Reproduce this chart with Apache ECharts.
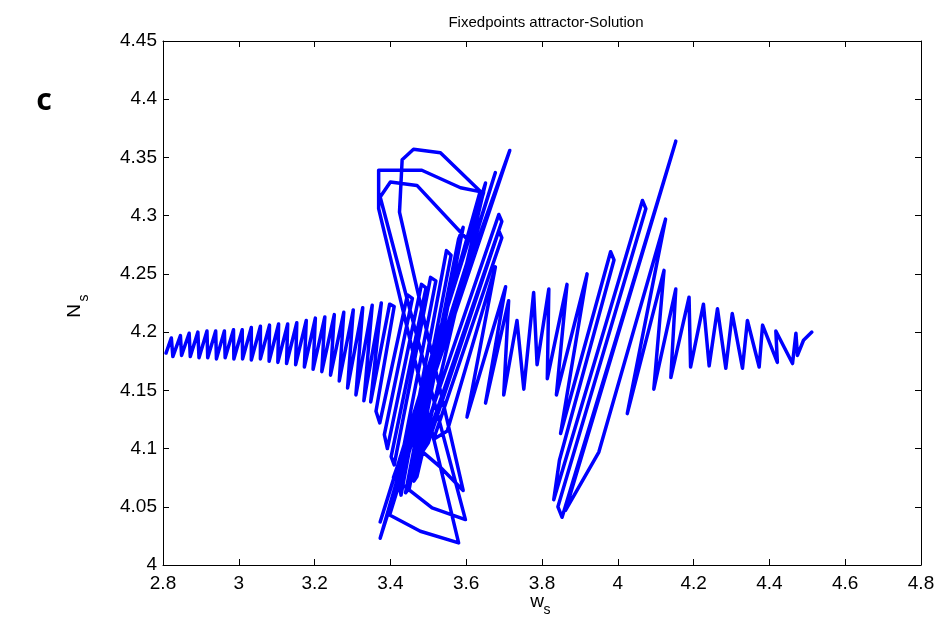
<!DOCTYPE html>
<html><head><meta charset="utf-8">
<script src="https://cdn.jsdelivr.net/npm/echarts@6.0.0/dist/echarts.min.js"></script>
<style>html,body{margin:0;padding:0;background:#fff}#chart{width:938px;height:625px}</style>
</head><body><div id="chart"></div>
<script>
// Axis ranges / ticks
const xMin = 2.8, xMax = 4.8, xStep = 0.2;
const yMin = 4.0, yMax = 4.45, yStep = 0.05;

// Trajectory vertices, in time order (w_s values)
const wsTrace = [
  // slow small oscillations
  2.808,2.822, 2.826,2.846, 2.849,2.869, 2.872,2.892, 2.895,2.916, 2.918,2.939,
  2.941,2.962, 2.964,2.986, 2.987,3.009, 3.010,3.033, 3.033,3.057, 3.057,3.081,
  3.080,3.105, 3.103,3.129, 3.126,3.153, 3.150,3.178, 3.173,3.202, 3.196,3.227,
  3.219,3.252, 3.242,3.277, 3.265,3.302, 3.287,3.327, 3.309,3.352, 3.330,3.376,
  // growth, first burst
  3.348,3.398,3.410,3.362, 3.372,3.445,3.458,3.384, 3.392,3.482,3.494,3.402,
  3.410,3.506,3.520,3.420, 3.428,3.548,3.560,3.440, 3.450,3.580,3.592,3.462,
  3.470,3.651,
  3.373,3.646,3.585,3.483,3.369,3.369,3.580,3.479,3.398,
  3.677,
  3.373,3.602,3.470,3.400,3.373,3.598,3.510,3.408,
  3.715,
  3.420,3.637,3.532,3.461,3.431,3.424,3.592,3.532,
  // decay
  3.475,3.686,3.694,3.486, 3.500,3.686,3.694,3.514, 3.550,3.677,
  3.602,3.704, 3.651,3.712, 3.699,3.734,
  3.752,3.778, 3.787,3.818,
  // second burst
  3.814,3.866, 3.838,3.919, 3.849,3.981,3.990,3.846,
  3.831,4.065,4.074,3.842, 3.853,4.153,4.145,3.862, 3.950,4.126,
  4.025,4.122, 4.095,4.153, 4.140,4.188,
  4.192,4.226, 4.241,4.263, 4.285,4.302, 4.329,4.342, 4.373,4.382, 4.421,4.417,
  4.461,4.470, 4.474,4.490,4.512
];
// N_s values matching wsTrace
const nsTrace = [
  4.182,4.195, 4.179,4.197, 4.180,4.199, 4.179,4.200, 4.178,4.201, 4.178,4.201,
  4.177,4.201, 4.178,4.202, 4.177,4.202, 4.177,4.204, 4.176,4.205, 4.177,4.206,
  4.175,4.207, 4.174,4.207, 4.173,4.208, 4.172,4.210, 4.170,4.212, 4.168,4.213,
  4.166,4.215, 4.163,4.217, 4.158,4.219, 4.152,4.221, 4.146,4.223, 4.141,4.225,
  4.140,4.224,4.222,4.132, 4.122,4.232,4.229,4.112, 4.100,4.241,4.238,4.093,
  4.086,4.247,4.244,4.076, 4.060,4.270,4.266,4.062, 4.066,4.280,4.290,4.072,
  4.076,4.328,
  4.037,4.320,4.324,4.339,4.339,4.306,4.019,4.029,4.043,
  4.337,
  4.023,4.280,4.326,4.329,4.316,4.039,4.049,4.075,
  4.356,
  4.070,4.321,4.354,4.357,4.348,4.303,4.064,4.084,
  4.100,4.301,4.295,4.098, 4.105,4.287,4.281,4.108, 4.115,4.256,
  4.127,4.239, 4.139,4.227, 4.146,4.210,
  4.151,4.234, 4.172,4.237,
  4.160,4.241, 4.146,4.250, 4.113,4.269,4.262,4.090,
  4.056,4.313,4.306,4.050, 4.041,4.364,4.355,4.047, 4.097,4.297,
  4.130,4.253, 4.151,4.237, 4.161,4.230,
  4.170,4.224, 4.171,4.220, 4.169,4.216, 4.169,4.210, 4.170,4.206, 4.174,4.201,
  4.173,4.199, 4.180,4.193,4.200
];

const titleText = 'Fixedpoints attractor-Solution';
const panelLabel = 'c';

const traceData = wsTrace.map((x, i) => [x, nsTrace[i]]);
const FONT = '"Liberation Sans", Arial, sans-serif';

const axisCommon = {
  axisLine: { show: true, onZero: false, lineStyle: { color: '#000', width: 1 } },
  axisTick: { show: true, inside: true, length: 6, lineStyle: { color: '#000' } },
  splitLine: { show: false }
};

const chart = echarts.init(document.getElementById('chart'));
chart.setOption({
  animation: false,
  backgroundColor: '#fff',
  title: {
    text: titleText, left: 541, top: 10, textAlign: 'center',
    textStyle: { fontFamily: FONT, fontSize: 15, fontWeight: 'normal', color: '#000' }
  },
  grid: { left: 163, right: 17, top: 41, bottom: 60 },
  xAxis: [
    Object.assign({ type: 'value', min: xMin, max: xMax, interval: xStep, position: 'bottom',
      axisLabel: { color: '#000', fontFamily: FONT, fontSize: 19, margin: 9,
        formatter: v => String(+v.toFixed(2)) } }, axisCommon),
    Object.assign({ type: 'value', min: xMin, max: xMax, interval: xStep, position: 'top',
      axisLabel: { show: false } }, axisCommon)
  ],
  yAxis: [
    Object.assign({ type: 'value', min: yMin, max: yMax, interval: yStep, position: 'left',
      axisLabel: { color: '#000', fontFamily: FONT, fontSize: 19, margin: 6,
        formatter: v => String(+v.toFixed(2)) } }, axisCommon),
    Object.assign({ type: 'value', min: yMin, max: yMax, interval: yStep, position: 'right',
      axisLabel: { show: false } }, axisCommon)
  ],
  graphic: [
    { type: 'text', x: 44, y: 101, style: { text: panelLabel, fill: '#000',
        font: 'bold 30px "Noto Sans", "Open Sans", sans-serif', textAlign: 'center', textVerticalAlign: 'middle' } },
    { type: 'text', x: 75, y: 311, rotation: Math.PI / 2, style: { text: 'N', fill: '#000',
        font: '19px ' + FONT, textAlign: 'center', textVerticalAlign: 'middle' } },
    { type: 'text', x: 84, y: 298, rotation: Math.PI / 2, style: { text: 's', fill: '#000',
        font: '14px ' + FONT, textAlign: 'center', textVerticalAlign: 'middle' } },
    { type: 'text', x: 537, y: 602, style: { text: 'w', fill: '#000',
        font: '19px ' + FONT, textAlign: 'center', textVerticalAlign: 'middle' } },
    { type: 'text', x: 547, y: 610, style: { text: 's', fill: '#000',
        font: '14px ' + FONT, textAlign: 'center', textVerticalAlign: 'middle' } }
  ],
  series: [{
    type: 'line', xAxisIndex: 0, yAxisIndex: 0, data: traceData,
    showSymbol: false, symbol: 'none', smooth: false, clip: true,
    lineStyle: { color: '#0000FF', width: 3.5, join: 'round', cap: 'round' }
  }]
});
</script></body></html>
